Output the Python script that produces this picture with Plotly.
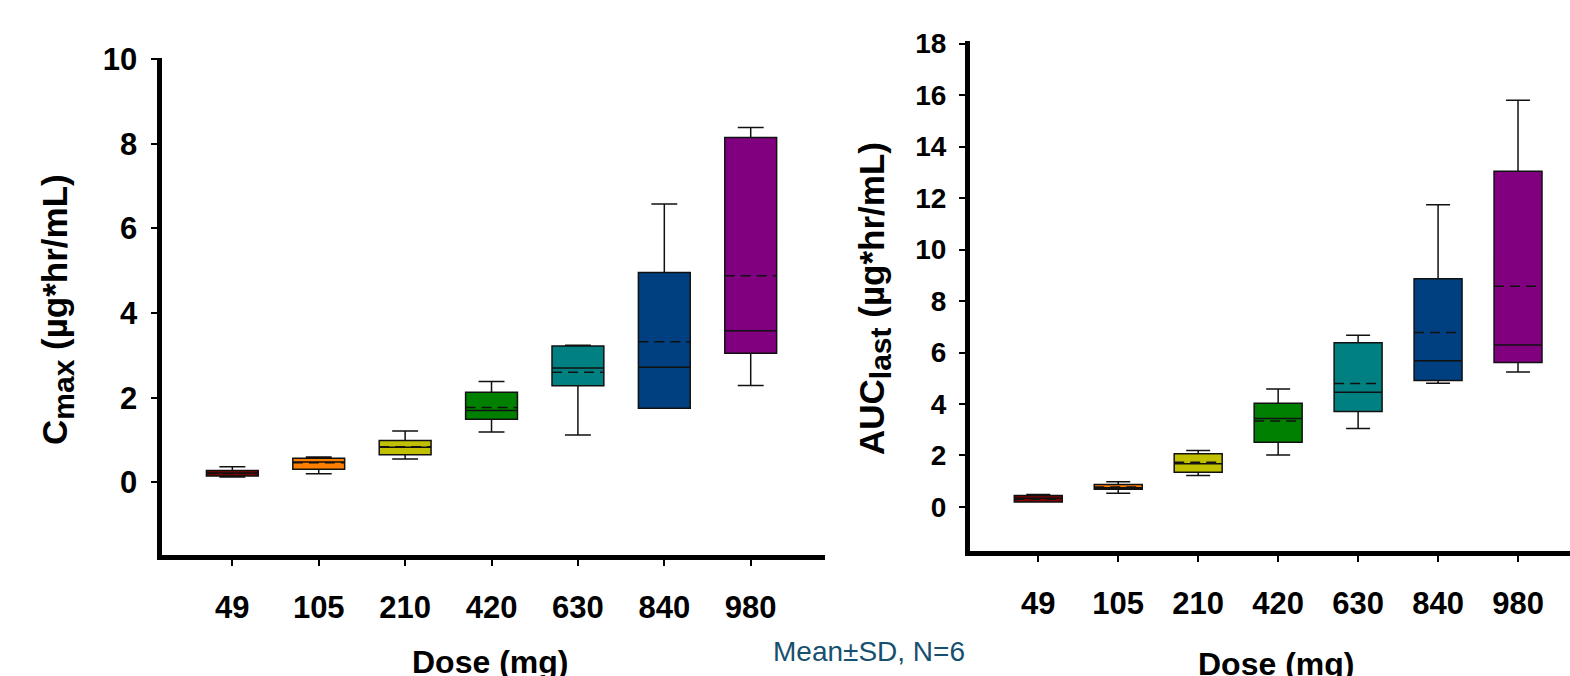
import plotly.graph_objects as go

doses = ["49", "105", "210", "420", "630", "840", "980"]
colors = ["#800000", "#FF8000", "#C0C000", "#008000", "#008080", "#004080", "#800080"]

cmax_q1 = [0.15, 0.31, 0.65, 1.49, 2.28, 1.75, 3.05]
cmax_median = [0.22, 0.48, 0.83, 1.70, 2.70, 2.72, 3.58]
cmax_q3 = [0.28, 0.57, 0.99, 2.13, 3.22, 4.96, 8.15]
cmax_mean = [0.21, 0.46, 0.84, 1.77, 2.60, 3.32, 4.88]
cmax_low = [0.125, 0.20, 0.55, 1.19, 1.12, 1.75, 2.29]
cmax_high = [0.37, 0.60, 1.21, 2.38, 3.24, 6.58, 8.39]

auc_q1 = [0.19, 0.69, 1.35, 2.51, 3.71, 4.91, 5.61]
auc_median = [0.34, 0.75, 1.68, 3.44, 4.46, 5.68, 6.29]
auc_q3 = [0.45, 0.87, 2.07, 4.03, 6.38, 8.87, 13.04]
auc_mean = [0.30, 0.78, 1.74, 3.34, 4.80, 6.78, 8.57]
auc_low = [0.19, 0.53, 1.22, 2.02, 3.05, 4.81, 5.24]
auc_high = [0.49, 0.98, 2.19, 4.58, 6.67, 11.74, 15.80]

cmax_ticks = [0, 2, 4, 6, 8, 10]
auc_ticks = [0, 2, 4, 6, 8, 10, 12, 14, 16, 18]

FONT = "Liberation Sans, Arial, sans-serif"
BOX_W = 0.6

fig = go.Figure()


def add_boxes(q1, med, q3, mean, low, high, xa, ya, xa_num):
    for i, d in enumerate(doses):
        fig.add_trace(go.Box(
            x=[d], q1=[q1[i]], median=[med[i]], q3=[q3[i]],
            lowerfence=[low[i]], upperfence=[high[i]],
            boxpoints=False, orientation="v",
            width=BOX_W, whiskerwidth=0.5,
            fillcolor=colors[i], line=dict(color="#111111", width=1.5),
            xaxis=xa, yaxis=ya, showlegend=False, hoverinfo="skip",
        ))
    # mean lines (long dashes) drawn across each box on an overlaid index axis
    mx, my = [], []
    for i, m in enumerate(mean):
        mx += [i - BOX_W / 2, i + BOX_W / 2, None]
        my += [m, m, None]
    fig.add_trace(go.Scatter(
        x=mx, y=my, mode="lines",
        line=dict(color="#111111", width=1.5, dash="10px,6px"),
        xaxis=xa_num, yaxis=ya, showlegend=False, hoverinfo="skip",
    ))


add_boxes(cmax_q1, cmax_median, cmax_q3, cmax_mean, cmax_low, cmax_high, "x", "y", "x3")
add_boxes(auc_q1, auc_median, auc_q3, auc_mean, auc_low, auc_high, "x2", "y2", "x4")

common_x = dict(
    type="category", categoryorder="array", categoryarray=doses,
    showline=True, linewidth=5, linecolor="black", mirror=False,
    ticks="outside", ticklen=6, tickwidth=2, tickcolor="black",
    showgrid=False, zeroline=False, automargin=False, ticklabelstandoff=15,
    tickfont=dict(family=FONT, size=31, color="black", weight="bold"),
)
common_y = dict(
    showline=True, linewidth=5, linecolor="black",
    ticks="outside", ticklen=6, tickwidth=2, tickcolor="black",
    showgrid=False, zeroline=False, automargin=False, ticklabelstandoff=7,
)

L_DOM = [0.10287, 0.52548]
R_DOM = [0.61783, 1.0]
L_RANGE = [-0.82, 6.86]
R_RANGE = [-0.854, 6.65]

fig.update_layout(
    width=1570, height=676,
    margin=dict(l=0, r=0, t=0, b=0, autoexpand=False),
    paper_bgcolor="white", plot_bgcolor="white",
    boxmode="overlay",
    xaxis=dict(common_x, domain=L_DOM, range=L_RANGE, anchor="y"),
    yaxis=dict(common_y, domain=[0.17973, 0.91420], range=[-1.707, 10.03],
               tickvals=cmax_ticks, anchor="x",
               tickfont=dict(family=FONT, size=31, color="black", weight="bold")),
    xaxis2=dict(common_x, domain=R_DOM, range=R_RANGE, anchor="y2"),
    yaxis2=dict(common_y, domain=[0.18565, 0.93935], range=[-1.69, 18.1],
                tickvals=auc_ticks, anchor="x2",
                tickfont=dict(family=FONT, size=28, color="black", weight="bold")),
    xaxis3=dict(overlaying="x", domain=L_DOM, range=L_RANGE, visible=False,
                type="linear", anchor="y", automargin=False),
    xaxis4=dict(overlaying="x2", domain=R_DOM, range=R_RANGE, visible=False,
                type="linear", anchor="y2", automargin=False),
)

title_font = dict(family=FONT, size=35, color="black", weight="bold")
fig.add_annotation(text="C<sub><span style='font-size:30px'>max</span></sub> (µg*hr/mL)",
                   xref="paper", yref="paper",
                   x=57 / 1570, y=(676 - 310) / 676, textangle=-90,
                   xanchor="center", yanchor="middle", showarrow=False, font=title_font)
fig.add_annotation(text="AUC<sub><span style='font-size:30px'>last</span></sub> (µg*hr/mL)",
                   xref="paper", yref="paper",
                   x=874 / 1570, y=(676 - 299) / 676, textangle=-90,
                   xanchor="center", yanchor="middle", showarrow=False, font=title_font)

dose_font = dict(family=FONT, size=32, color="black", weight="bold")
fig.add_annotation(text="Dose (mg)", xref="paper", yref="paper",
                   x=490 / 1570, y=(676 - 662) / 676, xanchor="center", yanchor="middle",
                   showarrow=False, font=dose_font)
fig.add_annotation(text="Dose (mg)", xref="paper", yref="paper",
                   x=1276 / 1570, y=(676 - 664) / 676, xanchor="center", yanchor="middle",
                   showarrow=False, font=dose_font)
fig.add_annotation(text="Mean±SD, N=6", xref="paper", yref="paper",
                   x=869 / 1570, y=(676 - 651) / 676, xanchor="center", yanchor="middle",
                   showarrow=False, font=dict(family=FONT, size=28, color="#17506E"))

fig.write_html(
    "out.html",
    config={"displayModeBar": False},
    post_script="document.body.style.margin='0';document.body.style.overflow='hidden';",
)
